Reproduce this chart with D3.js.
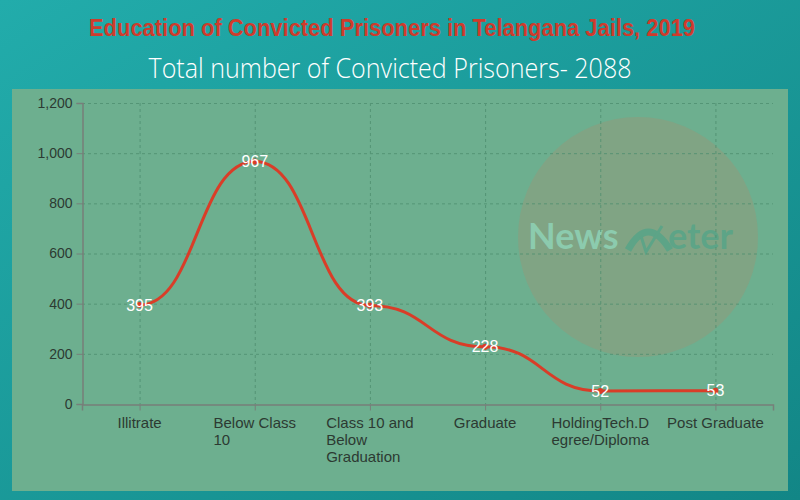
<!DOCTYPE html>
<html>
<head>
<meta charset="utf-8">
<script src="https://cdn.jsdelivr.net/npm/d3@7"></script>
<style>
  html, body { margin: 0; padding: 0; }
  body { width: 800px; height: 500px; overflow: hidden; }
</style>
</head>
<body>
<div id="chart"></div>
<script>
// data
const categories = ['Illitrate', 'Below Class 10', 'Class 10 and Below Graduation', 'Graduate', 'HoldingTech.Degree/Diploma', 'Post Graduate'];
const values = [395, 967, 393, 228, 52, 53];
const yTicks = [0, 200, 400, 600, 800, 1000, 1200];

const W = 800, H = 500;
// plot area inside the green panel
const plot = { left: 82, right: 773, top: 103, bottom: 404 };

const svg = d3.select('#chart')
  .append('svg')
  .attr('width', W)
  .attr('height', H);

// background gradient
const defs = svg.append('defs');
const grad = defs.append('linearGradient')
  .attr('id', 'bg')
  .attr('x1', '0%').attr('y1', '0%')
  .attr('x2', '100%').attr('y2', '100%');
grad.append('stop').attr('offset', '0%').attr('stop-color', '#22acab');
grad.append('stop').attr('offset', '100%').attr('stop-color', '#128686');

svg.append('rect')
  .attr('width', W).attr('height', H)
  .attr('fill', 'url(#bg)');

// titles
svg.append('text')
  .attr('x', 392).attr('y', 36)
  .attr('text-anchor', 'middle')
  .attr('font-family', 'Liberation Sans, Arial, sans-serif')
  .attr('font-weight', 'bold')
  .attr('font-size', 23)
  .attr('textLength', 606)
  .attr('lengthAdjust', 'spacingAndGlyphs')
  .attr('fill', '#cf3b2c')
  .text('Education of Convicted Prisoners in Telangana Jails, 2019');

svg.append('text')
  .attr('x', 390).attr('y', 78)
  .attr('text-anchor', 'middle')
  .attr('font-family', 'Open Sans, sans-serif')
  .attr('font-weight', 300)
  .attr('font-size', 28)
  .attr('textLength', 483)
  .attr('lengthAdjust', 'spacingAndGlyphs')
  .attr('fill', '#ffffff')
  .text('Total number of Convicted Prisoners- 2088');

// green panel
svg.append('rect')
  .attr('x', 12).attr('y', 89)
  .attr('width', 776).attr('height', 402)
  .attr('fill', '#6daf8f');

// watermark
const wm = svg.append('g');
wm.append('circle')
  .attr('cx', 638).attr('cy', 237).attr('r', 120)
  .attr('fill', '#8f9a7c')
  .attr('opacity', 0.55);
wm.append('text')
  .attr('x', 528).attr('y', 249)
  .attr('font-family', 'Lato, Open Sans, sans-serif')
  .attr('font-weight', 'bold')
  .attr('font-size', 36)
  .attr('fill', '#8ccbae')
  .text('News');
wm.append('path')
  .attr('d', 'M 628 250 Q 648 214 670 250')
  .attr('fill', 'none')
  .attr('stroke', '#5da487')
  .attr('stroke-width', 7);
wm.append('path')
  .attr('d', 'M 641 236 L 646 252 L 662 226')
  .attr('fill', 'none')
  .attr('stroke', '#5da487')
  .attr('stroke-width', 3);
wm.append('text')
  .attr('x', 668).attr('y', 249)
  .attr('font-family', 'Lato, Open Sans, sans-serif')
  .attr('font-weight', 'bold')
  .attr('font-size', 36)
  .attr('fill', '#5da487')
  .text('eter');

// scales
const x = d3.scalePoint()
  .domain(categories)
  .range([plot.left, plot.right])
  .padding(0.5);

const y = d3.scaleLinear()
  .domain([0, 1200])
  .range([plot.bottom, plot.top]);

// grid
const grid = svg.append('g')
  .attr('stroke', '#4f8f70')
  .attr('stroke-width', 1)
  .attr('stroke-dasharray', '3,3')
  .attr('opacity', 0.8);
grid.selectAll('line.h')
  .data(yTicks.filter(d => d > 0))
  .enter().append('line')
  .attr('x1', plot.left).attr('x2', plot.right)
  .attr('y1', d => y(d) + 0.5).attr('y2', d => y(d) + 0.5);
grid.selectAll('line.v')
  .data(categories)
  .enter().append('line')
  .attr('x1', d => x(d) + 0.5).attr('x2', d => x(d) + 0.5)
  .attr('y1', plot.top).attr('y2', plot.bottom);

// axes
const yAxis = svg.append('g')
  .attr('transform', `translate(${plot.left + 0.5},0)`)
  .call(d3.axisLeft(y).tickValues(yTicks).tickSize(6).tickPadding(4).tickFormat(d3.format(',')));

const xAxis = svg.append('g')
  .attr('transform', `translate(0,${plot.bottom + 0.5})`)
  .call(d3.axisBottom(x).tickSize(6).tickFormat(''));

[yAxis, xAxis].forEach(a => {
  a.select('.domain').attr('stroke', '#777f7a').attr('stroke-width', 1.5);
  a.selectAll('.tick line').attr('stroke', '#777f7a');
});

yAxis.selectAll('.tick text')
  .attr('font-family', 'Liberation Sans, Arial, sans-serif')
  .attr('font-size', 14)
  .attr('fill', '#2c3a32');

// wrapped x labels: block centred on the tick, lines left-aligned
const maxWidth = 101;
const labels = svg.append('g')
  .attr('font-family', 'Liberation Sans, Arial, sans-serif')
  .attr('font-size', 15)
  .attr('fill', '#2c3a32');

categories.forEach(cat => {
  const t = labels.append('text').attr('y', 428);
  const measure = s => {
    t.text(s);
    return t.node().getComputedTextLength();
  };
  // word wrap, falling back to breaking characters
  const lines = [];
  let cur = '';
  cat.split(' ').forEach(word => {
    const test = cur ? cur + ' ' + word : word;
    if (measure(test) <= maxWidth) {
      cur = test;
    } else {
      if (cur) lines.push(cur);
      cur = '';
      let w = word;
      while (measure(w) > maxWidth) {
        let i = w.length;
        while (i > 1 && measure(w.slice(0, i)) > maxWidth) i--;
        lines.push(w.slice(0, i));
        w = w.slice(i);
      }
      cur = w;
    }
  });
  if (cur) lines.push(cur);
  const widths = lines.map(measure);
  t.text(null);
  const blockW = d3.max(widths);
  const left = x(cat) - blockW / 2;
  lines.forEach((l, i) => {
    t.append('tspan')
      .attr('x', left)
      .attr('y', 428 + i * 17)
      .text(l);
  });
});

// line
const line = d3.line()
  .x((d, i) => x(categories[i]))
  .y(d => y(d))
  .curve(d3.curveBumpX);

svg.append('path')
  .datum(values)
  .attr('d', line)
  .attr('fill', 'none')
  .attr('stroke', '#d93d28')
  .attr('stroke-width', 3);

svg.append('g')
  .selectAll('circle')
  .data(values)
  .enter().append('circle')
  .attr('cx', (d, i) => x(categories[i]))
  .attr('cy', d => y(d))
  .attr('r', 3)
  .attr('fill', '#d93d28');

// value labels
svg.append('g')
  .selectAll('text')
  .data(values)
  .enter().append('text')
  .attr('x', (d, i) => x(categories[i]))
  .attr('y', d => y(d))
  .attr('dy', '0.35em')
  .attr('text-anchor', 'middle')
  .attr('font-family', 'Liberation Sans, Arial, sans-serif')
  .attr('font-size', 16)
  .attr('fill', '#ffffff')
  .text(d => d);
</script>
</body>
</html>
